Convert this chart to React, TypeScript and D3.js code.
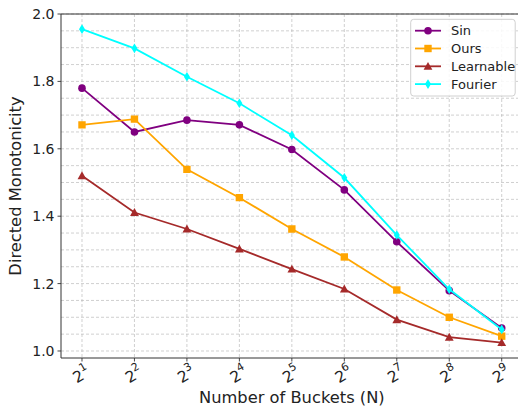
import React from "react";
import * as d3 from "d3";

const exponents = [1, 2, 3, 4, 5, 6, 7, 8, 9];
const sinValues = [1.78, 1.65, 1.685, 1.671, 1.598, 1.478, 1.324, 1.179, 1.068];
const oursValues = [1.671, 1.688, 1.539, 1.455, 1.362, 1.279, 1.181, 1.1, 1.044];
const learnableValues = [1.52, 1.411, 1.362, 1.303, 1.243, 1.184, 1.093, 1.041, 1.025];
const fourierValues = [1.955, 1.898, 1.814, 1.735, 1.64, 1.514, 1.344, 1.183, 1.064];
const yTicks = [1.0, 1.2, 1.4, 1.6, 1.8, 2.0];

const seriesList = [
  { name: "Sin", values: sinValues, color: "#800080", marker: "circle" },
  { name: "Ours", values: oursValues, color: "#FFA500", marker: "square" },
  { name: "Learnable", values: learnableValues, color: "#A52A2A", marker: "triangle" },
  { name: "Fourier", values: fourierValues, color: "#00FFFF", marker: "thin_diamond" },
];

const W = 518;
const H = 409;
const left = 61;
const right = 522.7;
const top = 14;
const bottom = 358;
const FONT = "DejaVu Sans, sans-serif";

const x = d3.scaleLog().base(2).domain([Math.pow(2, 0.6), Math.pow(2, 9.4)]).range([left, right]);
const y = d3.scaleLinear().domain([0.9792, 2.0]).range([bottom, top]);

function markerPath(kind: string): string {
  if (kind === "circle") {
    const p = d3.path();
    p.arc(0, 0, 3.8, 0, Math.PI * 2);
    return p.toString();
  }
  if (kind === "square") {
    const s = 3.7;
    return `M${-s},${-s}L${s},${-s}L${s},${s}L${-s},${s}Z`;
  }
  if (kind === "triangle") {
    const s = 4.4;
    return `M0,${-s}L${s},${s * 0.8}L${-s},${s * 0.8}Z`;
  }
  return `M0,-4.8L3,0L0,4.8L-3,0Z`;
}

function Chart() {
  const yMinor = d3.range(1.0, 2.0001, 0.05);
  const lineGen = d3
    .line<number>()
    .x((_, i) => x(Math.pow(2, exponents[i])))
    .y((v) => y(v));

  return (
    <svg width={W} height={H} style={{ position: "absolute", left: 0, top: 0, background: "#fff" }}>
      <defs>
        <clipPath id="plotclip">
          <rect x={left} y={top} width={right - left} height={bottom - top} />
        </clipPath>
      </defs>
      <rect x={0} y={0} width={W} height={H} fill="#fff" />
      <g stroke="#b0b0b0" strokeOpacity={0.75} strokeWidth={0.8} strokeDasharray="3,2">
        {yMinor.map((v, i) => (
          <line key={"gy" + i} x1={left} x2={right} y1={y(v)} y2={y(v)} />
        ))}
        {exponents.map((e) => (
          <line key={"gx" + e} x1={x(Math.pow(2, e))} x2={x(Math.pow(2, e))} y1={top} y2={bottom} />
        ))}
      </g>
      <g clipPath="url(#plotclip)">
        {seriesList.map((s) => (
          <g key={s.name}>
            <path d={lineGen(s.values) || ""} fill="none" stroke={s.color} strokeWidth={1.8} />
            {s.values.map((v, i) => (
              <path
                key={i}
                d={markerPath(s.marker)}
                transform={`translate(${x(Math.pow(2, exponents[i]))},${y(v)})`}
                fill={s.color}
              />
            ))}
          </g>
        ))}
      </g>
      <g stroke="#333" strokeWidth={1} fill="none">
        <line x1={left} x2={left} y1={top} y2={bottom} />
        <line x1={left} x2={right} y1={bottom} y2={bottom} />
        <line x1={left} x2={right} y1={top} y2={top} />
        <line x1={right} x2={right} y1={top} y2={bottom} />
      </g>
      <g fontFamily={FONT} fontSize={14} fill="#222">
        {yTicks.map((v) => (
          <g key={"yt" + v}>
            <line x1={left - 3.5} x2={left} y1={y(v)} y2={y(v)} stroke="#333" strokeWidth={0.9} />
            <text x={left - 6.5} y={y(v)} textAnchor="end" dominantBaseline="central">
              {v.toFixed(1)}
            </text>
          </g>
        ))}
      </g>
      <g fontFamily={FONT} fill="#222">
        {exponents.map((e) => {
          const px = x(Math.pow(2, e));
          return (
            <g key={"xt" + e}>
              <line x1={px} x2={px} y1={bottom} y2={bottom + 3.5} stroke="#333" strokeWidth={0.9} />
              <g transform={`translate(${px - 0.5},${375}) rotate(-30)`}>
                <text textAnchor="middle" dominantBaseline="central" fontSize={15.5}>
                  2<tspan fontSize={11} dy={-6.5}>{e}</tspan>
                </text>
              </g>
            </g>
          );
        })}
      </g>
      <text
        x={(left + right) / 2}
        y={403}
        textAnchor="middle"
        fontFamily={FONT}
        fontSize={16.3}
        fill="#222"
      >
        Number of Buckets (N)
      </text>
      <text
        transform={`translate(21,${(top + bottom) / 2}) rotate(-90)`}
        textAnchor="middle"
        fontFamily={FONT}
        fontSize={16.3}
        fill="#222"
      >
        Directed Monotonicity
      </text>
      <g>
        <rect x={410.7} y={19.3} width={104.5} height={76.7} rx={3} fill="#fff" fillOpacity={0.85} stroke="#d0d0d0" strokeWidth={1} />
        {seriesList.map((s, i) => {
          const ly = 30.7 + i * 17.8;
          return (
            <g key={"lg" + s.name}>
              <line x1={415} x2={441} y1={ly} y2={ly} stroke={s.color} strokeWidth={1.8} />
              <path d={markerPath(s.marker)} transform={`translate(428,${ly})`} fill={s.color} />
              <text x={451} y={ly} dominantBaseline="central" fontFamily={FONT} fontSize={13} fill="#222">
                {s.name}
              </text>
            </g>
          );
        })}
      </g>
    </svg>
  );
}

export default function App() {
  return <Chart />;
}
